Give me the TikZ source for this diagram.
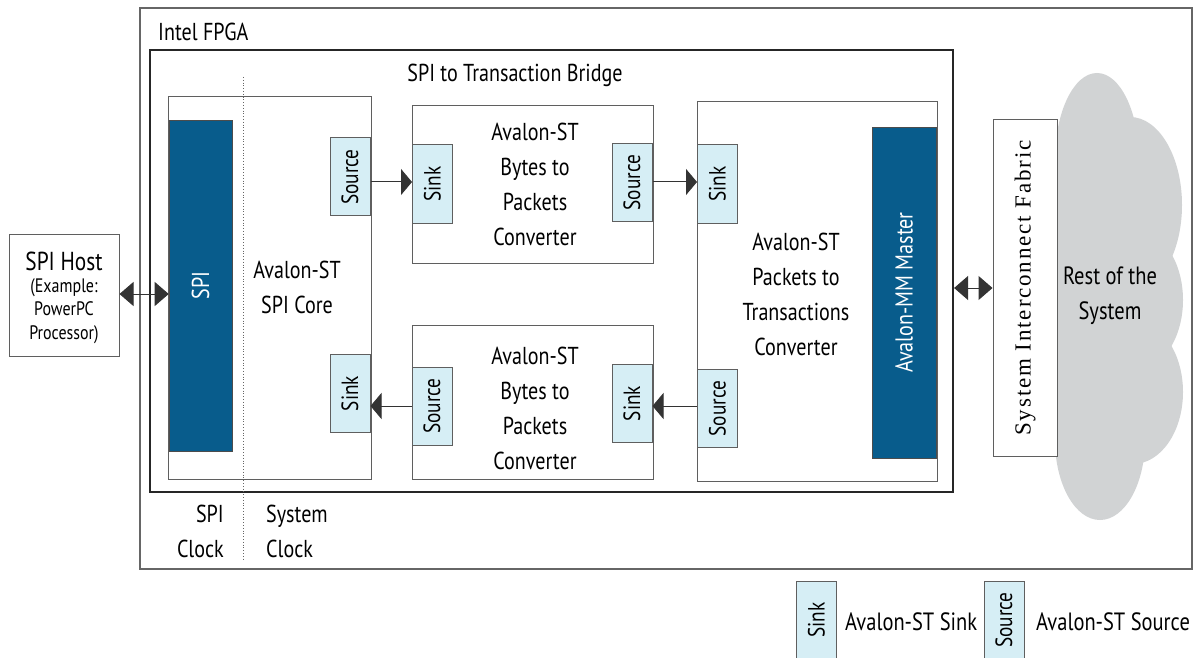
\documentclass[tikz,border=0pt]{standalone}
\usepackage{fontspec}
\setmainfont[FakeStretch=0.82]{PT Sans}
\newfontfamily\serifwide[LetterSpace=8]{Liberation Serif}
\usetikzlibrary{arrows.meta,calc}
\definecolor{barblue}{RGB}{8,92,140}
\definecolor{portblue}{RGB}{214,238,245}
\definecolor{linegray}{RGB}{95,95,95}
\definecolor{cloudgray}{RGB}{209,211,212}
\tikzset{
  box/.style={draw=linegray, line width=1pt, fill=white, inner sep=0pt},
  port/.style={draw=linegray, line width=1pt, fill=portblue, inner sep=0pt, minimum width=40pt, minimum height=78pt},
  porttxt/.style={rotate=90, font=\fontsize{23.5}{26}\selectfont},
  bar/.style={fill=barblue, draw=black!70, line width=0.6pt, inner sep=0pt},
  bartxt/.style={rotate=90, text=white, font=\fontsize{24.5}{28}\selectfont},
  lbl/.style={align=center, inner sep=0pt, font=\fontsize{24.5}{35}\selectfont},
  arr/.style={draw=black!80, line width=1pt, -{Triangle[length=11pt,width=26pt]}},
  darr/.style={draw=black!80, line width=1pt, {Triangle[length=14pt,width=24pt]}-{Triangle[length=14pt,width=24pt]}},
}
\begin{document}
\begin{tikzpicture}[x=1pt,y=-1pt]
\useasboundingbox (0,0) rectangle (1203,658);
% outer FPGA box
\node[box, draw=black!60, line width=1.3pt, minimum width=1052pt, minimum height=561pt] (fpga) at (666,288.5) {};
\node[anchor=west, inner sep=0pt, font=\fontsize{24.5}{26}\selectfont] (fpgalbl) at (158,32) {Intel FPGA};
% bridge
\node[box, draw=black!85, line width=2.2pt, minimum width=803pt, minimum height=442pt] (bridge) at (551.5,271) {};
\node[lbl] (bridgelbl) at (515,75) {SPI to Transaction Bridge};
% clock divider
\coordinate (dtop) at (243,77);
\coordinate (dbot) at (243,560);
% SPI core
\node[box, minimum width=203pt, minimum height=382pt] (spicore) at (269.5,288) {};
\draw[black!60, line width=0.8pt, dotted] (dtop) -- (dbot);
\node[bar, minimum width=63pt, minimum height=331pt] (spibar) at (200.5,285.5) {};
\node[bartxt] (spibartxt) at (spibar) {SPI};
\node[lbl] (corelbl) at (297,287) {Avalon-ST\\SPI Core};
\node[port] (src1) at (350,177) {};
\node[porttxt] (src1t) at (src1) {Source};
\node[port] (snk1) at (350,393.5) {};
\node[porttxt] (snk1t) at (snk1) {Sink};
% upper converter
\node[box, minimum width=241pt, minimum height=157pt] (conv1) at (532.5,184.5) {};
\node[lbl] (conv1lbl) at (535,184.5) {Avalon-ST\\Bytes to\\Packets\\Converter};
\node[port] (snk2) at (432.5,184) {};
\node[porttxt] (snk2t) at (snk2) {Sink};
\node[port] (src2) at (632,182.5) {};
\node[porttxt] (src2t) at (src2) {Source};
% lower converter
\node[box, minimum width=241pt, minimum height=154pt] (conv2) at (532.5,402) {};
\node[lbl] (conv2lbl) at (535,408) {Avalon-ST\\Bytes to\\Packets\\Converter};
\node[port] (src3) at (432,406) {};
\node[porttxt] (src3t) at (src3) {Source};
\node[port] (snk3) at (632,403.5) {};
\node[porttxt] (snk3t) at (snk3) {Sink};
% packets to transactions
\node[box, minimum width=240pt, minimum height=379pt] (pkt) at (817,291.5) {};
\node[lbl] (pktlbl) at (796,294) {Avalon-ST\\Packets to\\Transactions\\Converter};
\node[port] (snk4) at (717.5,184) {};
\node[porttxt] (snk4t) at (snk4) {Sink};
\node[port] (src4) at (717.5,408.5) {};
\node[porttxt] (src4t) at (src4) {Source};
\node[bar, minimum width=64pt, minimum height=331pt] (mmbar) at (904,292.5) {};
\node[bartxt] (mmbartxt) at (mmbar) {Avalon-MM Master};
% data arrows
\draw[arr] (src1.east |- 0,182) -- (snk2.west |- 0,182);
\draw[arr] (src2.east |- 0,182) -- (snk4.west |- 0,182);
\draw[arr] (snk4.west |- 0,406) -- (snk3.east |- 0,406);
\draw[arr] (src3.west |- 0,406) -- (snk1.east |- 0,406);
% SPI host
\node[box, minimum width=110pt, minimum height=122pt] (host) at (64,295) {};
\node[inner sep=0pt, font=\fontsize{26}{28}\selectfont] (hosttitle) at (64,261) {SPI Host};
\node[align=center, inner sep=0pt, font=\fontsize{19.5}{23.5}\selectfont] (hostsub) at (64,311) {(Example:\\PowerPC\\Processor)};
\draw[darr] (host.east |- 0,294) -- (spibar.west |- 0,294);
% clock labels
\node[lbl, anchor=east, align=right] (spiclk) at (224,531) {SPI\\Clock};
\node[lbl, anchor=west, align=left] (sysclk) at (266,531) {System\\Clock};
% cloud
\fill[cloudgray] (1097,160) ellipse [x radius=42, y radius=87];
\fill[cloudgray] (1130,205) ellipse [x radius=52, y radius=88];
\fill[cloudgray] (1133,300) ellipse [x radius=50, y radius=72];
\fill[cloudgray] (1133,392) ellipse [x radius=50, y radius=72];
\fill[cloudgray] (1100,440) ellipse [x radius=45, y radius=80];
\fill[cloudgray] (1056,150) rectangle (1135,450);
\node[lbl, font=\fontsize{25}{35}\selectfont] (rest) at (1110,296) {Rest of the\\System};
% fabric
\node[box, minimum width=64pt, minimum height=336pt] (fabric) at (1025,288) {};
\node[rotate=90, inner sep=0pt, font=\serifwide\fontsize{23}{24}\selectfont] (fabrictxt) at (fabric) {System Interconnect Fabric};
\draw[darr] (fabric.west -| bridge.east) -- (fabric.west);
% legend
\node[port, minimum height=82pt] (lsink) at (816.5,622) {};
\node[porttxt] (lsinkt) at (816.5,620) {Sink};
\node[anchor=west, inner sep=0pt, font=\fontsize{25}{26}\selectfont] (lsinklbl) at (845,622) {Avalon-ST Sink};
\node[port, minimum height=82pt] (lsrc) at (1004,622) {};
\node[porttxt] (lsrct) at (1004,620) {Source};
\node[anchor=west, inner sep=0pt, font=\fontsize{25}{26}\selectfont] (lsrclbl) at (1036,622) {Avalon-ST Source};
\end{tikzpicture}
\end{document}
